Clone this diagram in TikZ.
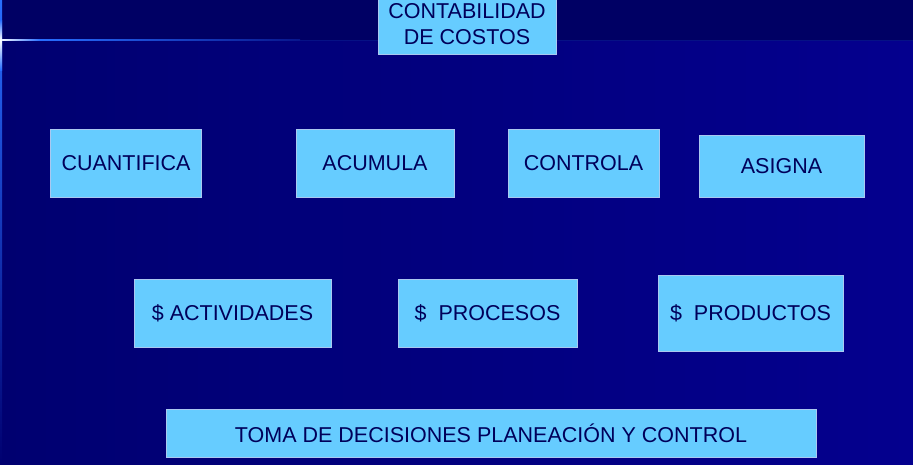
\documentclass[tikz,border=0pt]{standalone}
\usepackage{fontspec}
\setmainfont{Liberation Sans}
\definecolor{bandcol}{RGB}{0,0,100}
\definecolor{bodyL}{RGB}{0,0,112}
\definecolor{bodyR}{RGB}{4,0,142}
\definecolor{boxfill}{RGB}{102,204,255}
\definecolor{boxline}{RGB}{170,200,240}
\definecolor{txtcol}{RGB}{0,0,90}
\definecolor{glow}{RGB}{40,110,255}
\tikzset{
  box/.style={draw=boxline, line width=0.8pt, fill=boxfill, text=txtcol, font=\fontsize{21.5}{26}\selectfont, inner sep=0pt, align=center}
}
\begin{document}
\begin{tikzpicture}[x=1pt,y=-1pt]
\useasboundingbox (0,0) rectangle (913,464);
% background
\shade[left color=bodyL, right color=bodyR] (0,40) rectangle (913,464);
\fill[bandcol] (0,0) rectangle (913,40);
% glowing line
\shade[left color=white, right color=glow] (0,39.2) rectangle (40,40.8);
\shade[left color=glow, right color=bodyL!80!glow] (40,39.4) rectangle (300,40.6);
\fill[bodyL!85!glow] (300,39.5) rectangle (913,40.5);
\shade[top color=glow, bottom color=bodyL] (0,0) rectangle (2,464);
\shade[top color=glow, bottom color=white] (0,20) rectangle (2,40);
\shade[top color=white, bottom color=glow] (0,40) rectangle (2,70);
% boxes
\node[box, minimum width=178, minimum height=55] (cc) at (467,26.5) {};
\node[text=txtcol, font=\fontsize{21.5}{26}\selectfont, align=center, inner sep=0pt] (cct) at (467,24) {CONTABILIDAD\\DE COSTOS};
\node[box, minimum width=151, minimum height=68] (cu) at (126,163) {CUANTIFICA};
\node[box, minimum width=158, minimum height=68] (ac) at (375,163) {ACUMULA};
\node[box, minimum width=151, minimum height=68] (co) at (583.5,163) {CONTROLA};
\node[box, minimum width=165, minimum height=62] (as) at (781.5,166) {ASIGNA};
\node[box, minimum width=197, minimum height=68] (ad) at (232.5,313) {\$ ACTIVIDADES};
\node[box, minimum width=179, minimum height=68] (pr) at (487.5,313) {\$\ \ PROCESOS};
\node[box, minimum width=185, minimum height=76] (pd) at (750.5,313) {\$\ \ PRODUCTOS};
\node[box, minimum width=650, minimum height=48] (tm) at (491,433) {TOMA DE DECISIONES PLANEACIÓN Y CONTROL};
\end{tikzpicture}
\end{document}
